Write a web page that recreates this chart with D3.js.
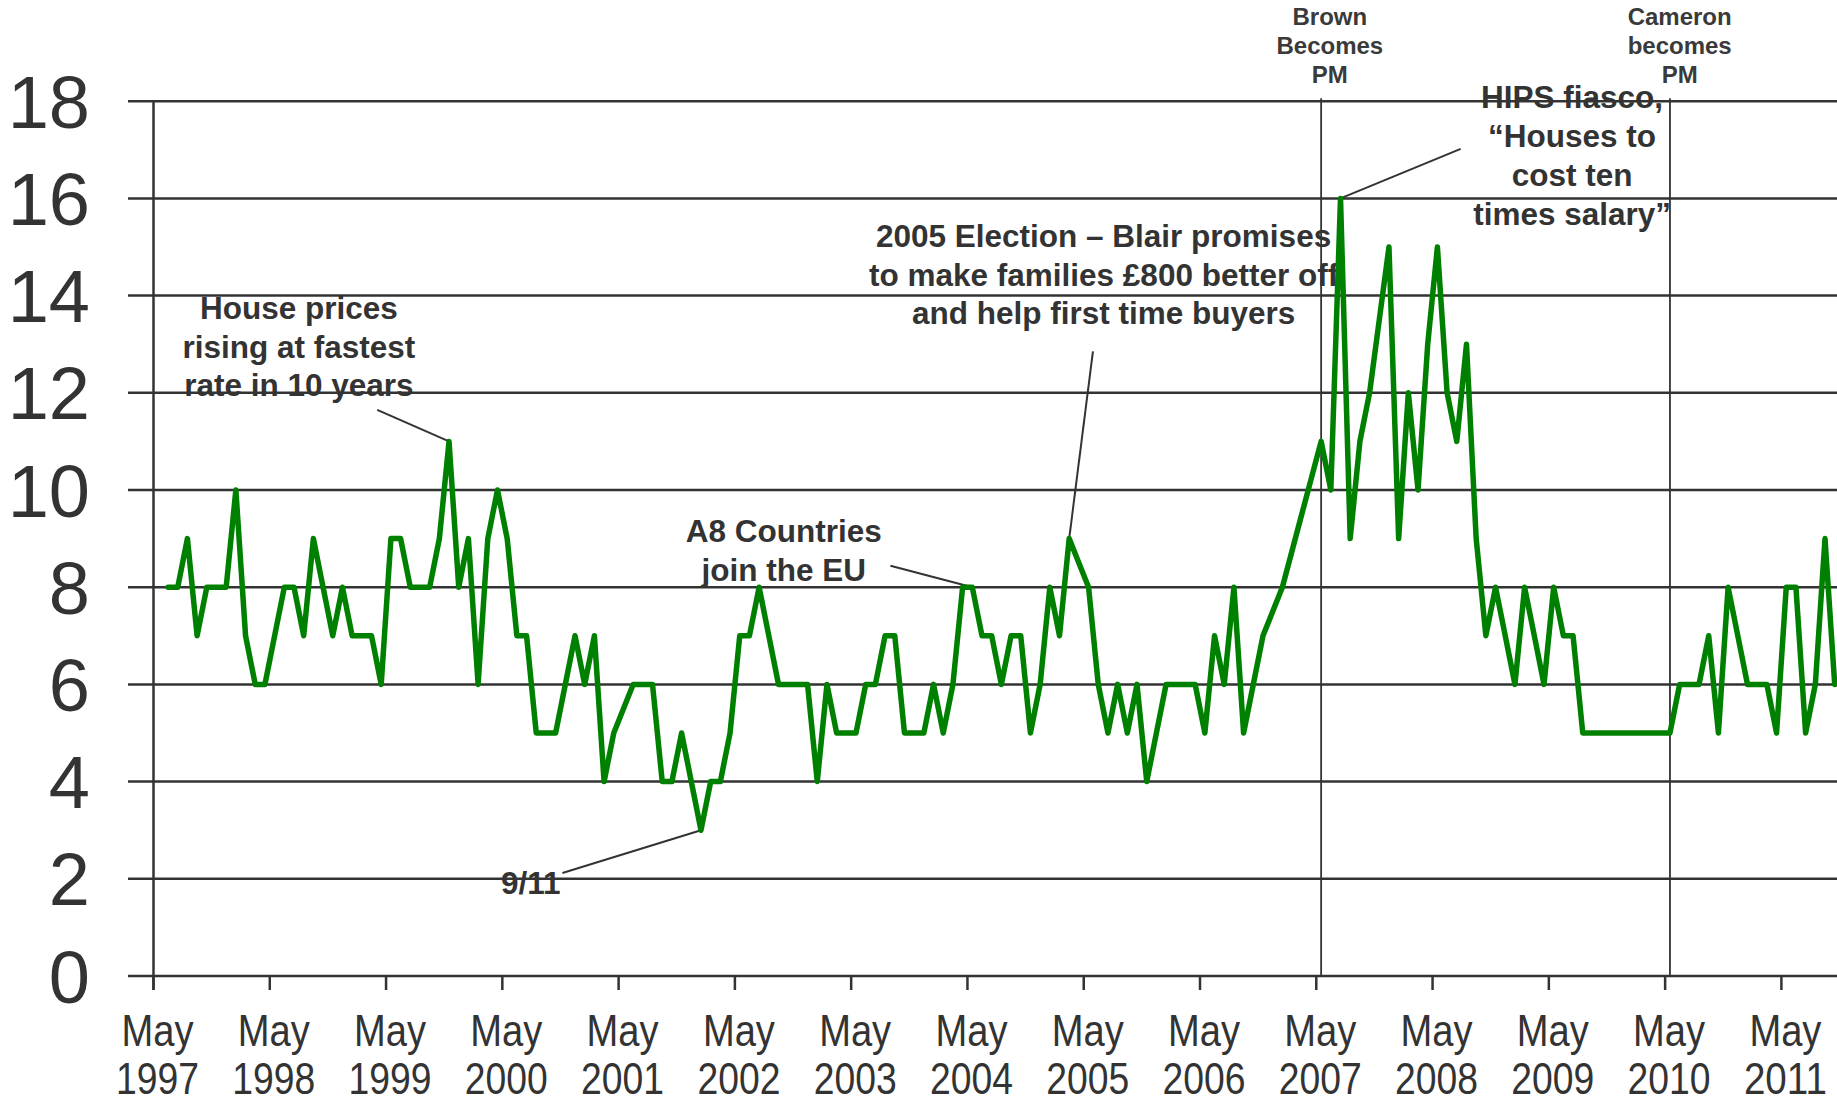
<!DOCTYPE html>
<html><head><meta charset="utf-8">
<script src="https://cdn.jsdelivr.net/npm/d3@7"></script>
<style>html,body{margin:0;padding:0;background:#fff;} svg{display:block;}</style>
</head><body>
<svg id="chart" width="1837" height="1104"></svg>
<script>
// ---------- DATA ----------
const startMonth = "1997-06";           // first monthly observation
const values = [
  8,8,9,7,8,8,8,10,7,6,6,7,8,8,7,9,8,7,8,7,7,7,6,9,9,8,8,8,9,11,8,9,
  6,9,10,9,7,7,5,5,5,6,7,6,7,4,5,5.5,6,6,6,4,4,5,4,3,4,4,5,7,7,8,7,6,
  6,6,6,4,6,5,5,5,6,6,7,7,5,5,5,6,5,6,8,8,7,7,6,7,7,5,6,8,7,9,8.5,8,
  6,5,6,5,6,4,5,6,6,6,6,5,7,6,8,5,6,7,7.5,8,8.75,9.5,10.25,11,10,16,9,11,12,13.5,15,9,
  12,10,13,15,12,11,13,9,7,8,7,6,8,7,6,8,7,7,5,5,5,5,5,5,5,5,5,5,6,6,6,7,
  5,8,7,6,6,6,5,8,8,5,6,9,6
];
const yTicks = [0,2,4,6,8,10,12,14,16,18];
const xTickYears = [1997,1998,1999,2000,2001,2002,2003,2004,2005,2006,2007,2008,2009,2010,2011];
const xTickMonthLabel = "May";
const pmEvents = [
  {lines:["Brown","Becomes","PM"], month:"2007-05"},
  {lines:["Cameron","becomes","PM"], month:"2010-05"}
];
const annotations = [
  {lines:["House prices","rising at fastest","rate in 10 years"], month:"1999-11"},
  {lines:["9/11"], month:"2002-01"},
  {lines:["A8 Countries","join the EU"], month:"2004-05"},
  {lines:["2005 Election – Blair promises","to make families £800 better off","and help first time buyers"], month:"2005-03"},
  {lines:["HIPS fiasco,","“Houses to","cost ten","times salary”"], month:"2007-07"}
];

// ---------- LAYOUT (in data units: months since May 1997, value) ----------
const annLayout = [
  {cx:15.0,  y:13.52, lx:23.09, ly:11.65},
  {cx:38.93, y:1.69,  lx:42.2,  ly:2.12},
  {cx:65.05, y:8.93,  lx:76.05, ly:8.44},
  {cx:98.05, y:15.0,  lx:96.95, ly:12.85},
  {cx:146.4, y:17.85, lx:134.9, ly:17.02}
];
const pmLayout = [{cx:121.4},{cx:157.5}];

// ---------- CHART ----------
const W = 1837, H = 1104;
const svg = d3.select("#chart");
const x = d3.scaleLinear().domain([0,168]).range([153.5, 1781.4]);
const y = d3.scaleLinear().domain([0,18]).range([976, 101.2]);
const monthsSinceMay97 = s => { const [Y,M] = s.split("-").map(Number); return (Y-1997)*12 + (M-5); };
const m0 = monthsSinceMay97(startMonth);
const pts = values.map((v,i)=>({m:m0+i+0.5, v}));
const ptAt = s => pts[monthsSinceMay97(s)-m0];

const FONT = "'Liberation Sans', Arial, Helvetica, sans-serif";
const TXT = "#333333";

// annotations text (drawn below gridlines)
const annG = svg.append("g").attr("font-family",FONT).attr("font-weight","bold")
  .attr("font-size",31.5).attr("fill",TXT).attr("text-anchor","middle");
annotations.forEach((a,i)=>{
  const L = annLayout[i];
  const t = annG.append("text");
  a.lines.forEach((ln,j)=>{
    t.append("tspan").attr("x",x(L.cx)).attr("y",y(L.y)+j*38.7).text(ln);
  });
});

// PM labels
const pmG = svg.append("g").attr("font-family",FONT).attr("font-weight","bold")
  .attr("font-size",24).attr("fill","#3a3a3a").attr("text-anchor","middle");
pmEvents.forEach((e,i)=>{
  const t = pmG.append("text");
  e.lines.forEach((ln,j)=>{
    t.append("tspan").attr("x",x(pmLayout[i].cx)).attr("y",25+j*29).text(ln);
  });
});

// gridlines (horizontal) incl. left tick stubs
svg.append("g").selectAll("line").data(yTicks).join("line")
  .attr("x1",128).attr("x2",W).attr("y1",d=>y(d)).attr("y2",d=>y(d))
  .attr("stroke","#333").attr("stroke-width",2.5);

// y axis line
svg.append("line").attr("x1",x(0)).attr("x2",x(0)).attr("y1",y(18)).attr("y2",990)
  .attr("stroke","#333").attr("stroke-width",2.5);

// x ticks
svg.append("g").selectAll("line").data(xTickYears).join("line")
  .attr("x1",d=>x((d-1997)*12)).attr("x2",d=>x((d-1997)*12))
  .attr("y1",y(0)).attr("y2",990).attr("stroke","#333").attr("stroke-width",2.5);

// y tick labels
svg.append("g").attr("font-family",FONT).attr("font-size",74).attr("fill",TXT)
  .attr("text-anchor","end")
  .selectAll("text").data(yTicks).join("text")
  .attr("x",90).attr("y",d=>y(d)+26.5).text(d=>d);

// x tick labels
const xl = svg.append("g").attr("font-family",FONT).attr("font-size",44).attr("fill",TXT)
  .attr("text-anchor","middle");
xTickYears.forEach(yr=>{
  const cx = x((yr-1997)*12) + 4;
  xl.append("text").attr("x",cx).attr("y",1046).attr("textLength",72)
    .attr("lengthAdjust","spacingAndGlyphs").text(xTickMonthLabel);
  xl.append("text").attr("x",cx).attr("y",1094).attr("textLength",83)
    .attr("lengthAdjust","spacingAndGlyphs").text(yr);
});

// PM vertical lines
svg.append("g").selectAll("line").data(pmEvents).join("line")
  .attr("x1",d=>x(ptAt(d.month).m)).attr("x2",d=>x(ptAt(d.month).m))
  .attr("y1",y(18)-3).attr("y2",y(0))
  .attr("stroke","#333").attr("stroke-width",1.8);

// leader lines
svg.append("g").selectAll("line").data(annotations).join("line")
  .attr("x1",(d,i)=>x(annLayout[i].lx)).attr("y1",(d,i)=>y(annLayout[i].ly))
  .attr("x2",d=>x(ptAt(d.month).m)).attr("y2",d=>y(ptAt(d.month).v))
  .attr("stroke","#333").attr("stroke-width",2);

// data line
svg.append("path").datum(pts)
  .attr("d", d3.line().x(d=>x(d.m)).y(d=>y(d.v)))
  .attr("fill","none").attr("stroke","#008000").attr("stroke-width",5.5)
  .attr("stroke-linejoin","round").attr("stroke-linecap","round");
</script>
</body></html>
